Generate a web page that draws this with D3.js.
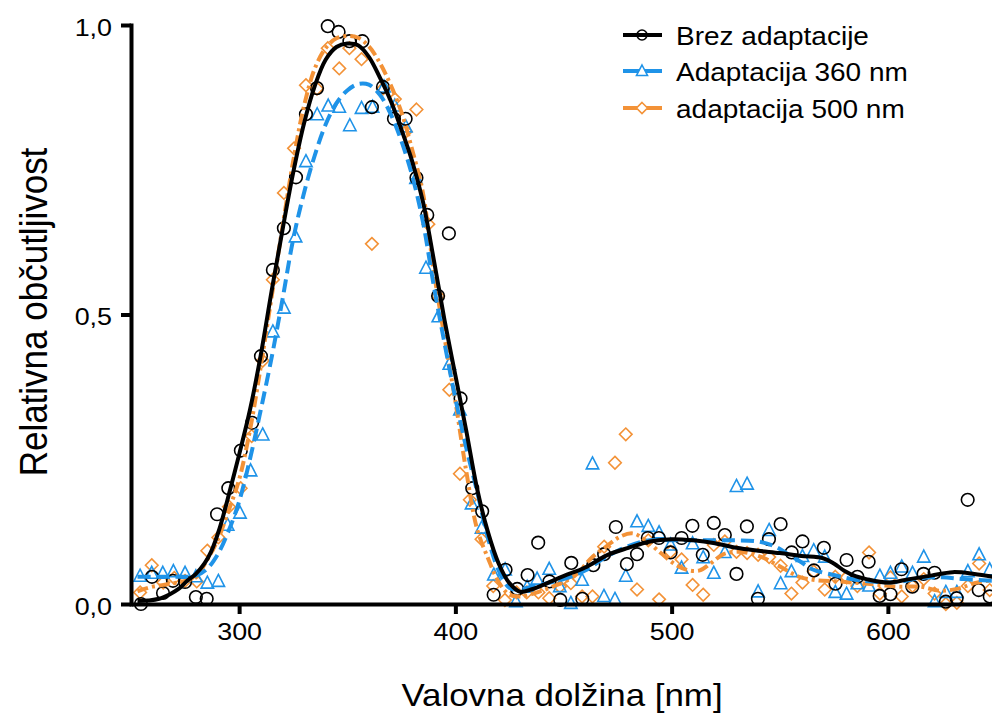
<!DOCTYPE html>
<html><head><meta charset="utf-8">
<script src="https://cdn.jsdelivr.net/npm/d3@7"></script>
<style>
body{margin:0;background:#fff}
svg{display:block}
text{font-family:"Liberation Sans",Arial,Helvetica,sans-serif;fill:#000}
</style>
</head><body>
<svg id="chart" width="992" height="717"></svg>
<script>
// ---- Data ----
const seriesNames = ["Brez adaptacije", "Adaptacija 360 nm", "adaptacija 500 nm"];
const xTicks = [300, 400, 500, 600];
const yTicks = [0, 0.5, 1.0];
const xTitle = "Valovna dolžina [nm]";
const yTitle = "Relativna občutljivost";

const blackX = [254.6,259.7,264.8,269.4,275,280,285,289.8,295,300.8,306,310.1,315.6,320.7,326.3,330.9,336,341,346,351,357,361.4,366.5,371.6,377,382,387,392,397,402.4,407.8,412.4,417.7,423.2,428.6,433.4,438.3,443.5,448.5,453.6,458.7,463.8,468.8,474.2,479.3,484,489,494.1,499.5,504.6,509.6,514.4,519.5,524.6,530,534.8,539.9,545,550.4,555.5,560.5,565.8,570.4,575.8,580.9,585.9,591.1,596.2,601.2,606.3,611.3,616.5,621.6,626.8,631.8,636.9,642,647.1];
const blackY = [0.0,0.047,0.019,0.04,0.038,0.012,0.009,0.155,0.2,0.265,0.313,0.428,0.577,0.649,0.737,0.846,0.891,0.998,0.988,0.972,0.972,0.858,0.893,0.838,0.838,0.736,0.672,0.532,0.64,0.355,0.2,0.16,0.016,0.059,0.026,0.05,0.106,0.039,0.007,0.071,0.009,0.067,0.086,0.133,0.069,0.086,0.114,0.114,0.089,0.114,0.135,0.085,0.14,0.119,0.052,0.134,0.009,0.112,0.138,0.089,0.108,0.058,0.097,0.035,0.076,0.047,0.073,0.014,0.017,0.06,0.03,0.052,0.054,0.004,0.01,0.18,0.024,0.013];

const blueX = [254.2,259.6,264.7,269.6,275,280,285.3,290.4,294.7,300.4,305.3,310.9,315.6,320.7,326.1,330.9,336.1,341.2,346.3,351.2,356.6,361.7,367,372,377.1,381.8,386.4,392.1,397.2,402.1,407.5,412.1,417.8,423,428,433.2,437.8,443.4,448.3,453.4,458.6,463.4,468.7,473.8,478.8,484,489.2,494.2,499.5,504.6,509.7,514.6,519.5,524.6,530,534.9,540,545.1,550.4,555.4,560.5,565.7,570.8,575.7,580.9,585.9,591.3,596.3,601.2,606.4,611.4,616.6,621.6,626.8,631.9,637,642.2,647.1];
const blueY = [0.048,0.053,0.053,0.056,0.053,0.047,0.036,0.039,0.136,0.157,0.23,0.292,0.47,0.511,0.634,0.764,0.845,0.86,0.858,0.826,0.856,0.858,0.893,0.86,0.824,0.735,0.58,0.496,0.414,0.335,0.173,0.131,0.05,0.059,0.004,0.029,0.043,0.06,0.03,0.001,0.041,0.242,0.013,0.008,0.048,0.142,0.134,0.123,0.102,0.062,0.104,0.08,0.053,0.089,0.203,0.207,0.021,0.127,0.035,0.056,0.082,0.092,0.081,0.02,0.017,0.035,0.031,0.048,0.053,0.064,0.053,0.081,0.004,0.02,0.02,0.056,0.085,0.059];

const orangeX = [254.2,259.6,264.9,270,275,280.4,285.3,290.4,295.3,300.7,305.8,310.9,315.6,320.7,325.4,330.9,336,341,346.3,351,356.6,361.4,366.5,372,377.1,382,387.5,392,397.2,402.1,406.7,412.1,417.5,422.9,428.3,433,438.4,443.4,448.3,453.4,458.6,463.4,468.8,473.8,478.8,484,489.2,494.2,499.5,504.6,509.7,514.6,519.5,524.6,530,534.9,540,545.1,550.4,555.4,560.5,565.7,570.8,575.7,580.9,585.9,591.3,596.3,601.2,606.4,611.4,616.6,621.6,626.8,631.9,637,642.2,647.1];
const orangeY = [0.02,0.067,0.037,0.045,0.04,0.039,0.092,0.115,0.168,0.2,0.29,0.42,0.56,0.71,0.787,0.896,0.89,0.96,0.925,0.96,0.941,0.622,0.89,0.872,0.816,0.854,0.656,0.532,0.37,0.225,0.18,0.112,0.031,0.007,0.02,0.02,0.02,0.01,0.03,0.036,0.013,0.013,0.099,0.244,0.293,0.025,0.11,0.008,0.09,0.077,0.033,0.016,0.102,0.108,0.09,0.088,0.085,0.081,0.066,0.018,0.037,0.056,0.025,0.047,0.046,0.031,0.089,0.018,0.046,0.013,0.031,0.043,0.018,0.0,0.002,0.031,0.07,0.024];

// fitted curves [wavelength, value]
const fitBlack = [[253,0.005],[258,0.006],[263,0.009],[268,0.017],[272,0.026],[276,0.04],[280,0.052],[284,0.07],[287,0.09],[291,0.131],[296,0.2],[300,0.258],[305,0.335],[310,0.43],[315,0.54],[320,0.645],[325,0.745],[330,0.83],[335,0.895],[340,0.94],[345,0.962],[350,0.968],[355,0.965],[360,0.945],[365,0.91],[370,0.87],[375,0.82],[380,0.765],[385,0.695],[390,0.595],[395,0.49],[400,0.395],[405,0.3],[410,0.2],[415,0.125],[420,0.07],[425,0.036],[430,0.021],[435,0.025],[440,0.032],[450,0.048],[460,0.063],[470,0.084],[480,0.097],[490,0.108],[500,0.112],[510,0.11],[520,0.105],[530,0.097],[540,0.092],[550,0.088],[560,0.083],[570,0.079],[575,0.07],[580,0.057],[585,0.048],[590,0.043],[600,0.037],[610,0.043],[620,0.049],[630,0.055],[640,0.052],[650,0.046]];
const fitBlue = [[253,0.047],[260,0.047],[270,0.047],[280,0.049],[285,0.06],[290,0.085],[295,0.125],[300,0.177],[305,0.25],[310,0.335],[315,0.425],[320,0.525],[325,0.63],[330,0.71],[335,0.775],[340,0.828],[345,0.865],[350,0.887],[355,0.898],[360,0.897],[365,0.88],[370,0.847],[375,0.8],[380,0.74],[385,0.66],[390,0.55],[395,0.45],[400,0.355],[405,0.27],[410,0.195],[415,0.115],[420,0.058],[425,0.028],[430,0.025],[435,0.03],[440,0.034],[450,0.043],[460,0.058],[470,0.082],[480,0.1],[490,0.11],[500,0.11],[510,0.11],[520,0.11],[530,0.11],[540,0.108],[548,0.099],[555,0.083],[560,0.072],[565,0.06],[575,0.05],[585,0.042],[595,0.038],[605,0.038],[615,0.045],[625,0.046],[635,0.043],[650,0.04]];
const fitOrange = [[253,0.022],[260,0.03],[265,0.033],[270,0.036],[275,0.04],[280,0.046],[285,0.075],[290,0.11],[295,0.16],[300,0.215],[305,0.3],[310,0.41],[315,0.53],[320,0.65],[325,0.765],[330,0.86],[335,0.925],[340,0.96],[345,0.977],[350,0.981],[355,0.978],[360,0.963],[365,0.935],[370,0.897],[375,0.85],[380,0.785],[385,0.71],[390,0.575],[395,0.46],[400,0.35],[405,0.23],[410,0.13],[415,0.08],[420,0.038],[425,0.016],[430,0.013],[436,0.018],[445,0.03],[455,0.048],[463,0.08],[470,0.1],[476,0.116],[482,0.122],[488,0.11],[495,0.088],[501,0.07],[507,0.059],[513,0.058],[518,0.07],[524,0.086],[532,0.09],[541,0.082],[550,0.065],[559,0.047],[567,0.041],[578,0.039],[587,0.036],[596,0.033],[605,0.03],[615,0.03],[624,0.023],[633,0.027],[640,0.036],[650,0.042]];

const colors = ["#000000", "#1f93e8", "#f39237"];

// ---- Chart ----
const svg = d3.select("#chart");
const x = d3.scaleLinear().domain([250, 650]).range([131, 996]);
const y = d3.scaleLinear().domain([0, 1]).range([604, 25]);

const plot = svg.append("g");

// markers
const circlePath = "M6.3,0A6.3,6.3,0,1,1,-6.3,0A6.3,6.3,0,1,1,6.3,0Z";
const triPath = "M0,-7L6.2,5L-6.2,5Z";
const diaPath = "M0,-6.3L6.3,0L0,6.3L-6.3,0Z";

function drawPoints(xs, ys, path, color) {
  plot.append("g").selectAll("path").data(xs.map((d, i) => [d, ys[i]])).join("path")
    .attr("d", path)
    .attr("transform", d => `translate(${x(d[0])},${y(d[1])})`)
    .attr("fill", "none").attr("stroke", color).attr("stroke-width", 1.6);
}
drawPoints(orangeX, orangeY, diaPath, colors[2]);
drawPoints(blueX, blueY, triPath, colors[1]);
drawPoints(blackX, blackY, circlePath, colors[0]);

const line = d3.line().x(d => x(d[0])).y(d => y(d[1])).curve(d3.curveCatmullRom.alpha(0.5));
plot.append("path").datum(fitOrange).attr("d", line).attr("fill", "none")
  .attr("stroke", colors[2]).attr("stroke-width", 4).attr("stroke-dasharray", "11,4,3,4");
plot.append("path").datum(fitBlue).attr("d", line).attr("fill", "none")
  .attr("stroke", colors[1]).attr("stroke-width", 4).attr("stroke-dasharray", "13,6");
plot.append("path").datum(fitBlack).attr("d", line).attr("fill", "none")
  .attr("stroke", colors[0]).attr("stroke-width", 4);

// axes
const fmt = d => d3.format(".1f")(d).replace(".", ",");
const yAxis = svg.append("g").attr("transform", "translate(131,0)")
  .call(d3.axisLeft(y).tickValues(yTicks).tickSize(10).tickSizeOuter(0).tickFormat(fmt));
yAxis.select(".domain").attr("stroke-width", 4).attr("stroke-linecap", "square");
yAxis.selectAll(".tick line").attr("stroke-width", 4);
yAxis.selectAll(".tick text").attr("x", 0).attr("dy", null).attr("y", 10)
  .attr("transform", "translate(-19,0) scale(1.12,1)")
  .style("font-size", "24px").style("font-family", '"Liberation Sans",Arial,sans-serif');

const xAxis = svg.append("g").attr("transform", "translate(0,604)")
  .call(d3.axisBottom(x).tickValues(xTicks).tickSize(10).tickSizeOuter(0).tickFormat(d3.format("d")));
xAxis.select(".domain").attr("stroke-width", 4);
xAxis.selectAll(".tick line").attr("stroke-width", 4);
xAxis.selectAll(".tick text").attr("x", 0).attr("dy", null).attr("y", 36)
  .attr("transform", "scale(1.12,1)")
  .style("font-size", "24px").style("font-family", '"Liberation Sans",Arial,sans-serif');

// titles
svg.append("text").attr("transform", "translate(562,706) scale(1.09,1)")
  .attr("text-anchor", "middle").style("font-size", "32px").text(xTitle);
svg.append("text").attr("transform", "translate(47,312) scale(1.1,1) rotate(-90)")
  .attr("text-anchor", "middle").style("font-size", "35px").text(yTitle);

// legend
const legYs = [35, 71, 108];
const legPaths = ["M5,0A5,5,0,1,1,-5,0A5,5,0,1,1,5,0Z", "M0,-6L5.5,4.5L-5.5,4.5Z", "M0,-5.5L5.5,0L0,5.5L-5.5,0Z"];
const leg = svg.append("g");
seriesNames.forEach((name, i) => {
  const g = leg.append("g").attr("transform", `translate(0,${legYs[i]})`);
  g.append("line").attr("x1", 623).attr("x2", 662).attr("y1", 0).attr("y2", 0)
    .attr("stroke", colors[i]).attr("stroke-width", 4);
  g.append("path").attr("d", legPaths[i])
    .attr("transform", "translate(642,0)")
    .attr("fill", i === 0 ? "none" : "#fff").attr("stroke", colors[i]).attr("stroke-width", 1.6);
  g.append("text").attr("transform", "translate(676,10) scale(1.12,1)")
    .style("font-size", "25px").text(name);
});
</script>
</body></html>
